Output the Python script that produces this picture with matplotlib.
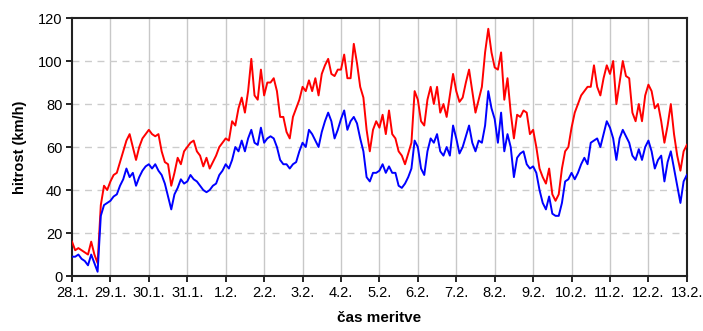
import numpy as np
import matplotlib.pyplot as plt

plt.rcParams['font.family'] = ['Liberation Sans', 'DejaVu Sans']

# odčitki vsake 2 uri (12 na dan), od 28.1. 00h do 13.2. 00h
dnevi = ["28.1.", "29.1.", "30.1.", "31.1.", "1.2.", "2.2.", "3.2.", "4.2.",
         "5.2.", "6.2.", "7.2.", "8.2.", "9.2.", "10.2.", "11.2.", "12.2.", "13.2."]

sunki = [
    16, 12, 13, 12, 11, 10, 16, 10, 6, 33, 42, 40,
    44, 47, 48, 53, 58, 63, 66, 60, 54, 60, 64, 66,
    68, 66, 65, 66, 58, 53, 52, 42, 48, 55, 52, 58,
    60, 62, 63, 58, 56, 51, 55, 50, 53, 56, 60, 62,
    64, 63, 72, 70, 78, 83, 76, 86, 101, 84, 82, 96,
    84, 90, 90, 92, 86, 74, 74, 67, 64, 74, 78, 82,
    88, 86, 91, 86, 92, 84, 94, 98, 101, 94, 93, 96,
    96, 103, 92, 92, 108, 99, 88, 83, 68, 58, 68, 72,
    69, 75, 66, 77, 66, 64, 58, 56, 52, 57, 62, 86,
    82, 72, 70, 82, 88, 80, 88, 76, 80, 74, 84, 94,
    86, 81, 83, 90, 96, 86, 76, 82, 88, 104, 115, 104,
    97, 96, 104, 82, 92, 76, 64, 75, 74, 77, 76, 66,
    68, 60, 50, 46, 43, 50, 38, 35, 38, 50, 58, 60,
    69, 76, 80, 84, 86, 88, 88, 98, 88, 84, 92, 98,
    94, 100, 80, 90, 100, 93, 92, 76, 72, 80, 72, 84,
    89, 86, 78, 80, 72, 62, 70, 80, 66, 56, 49, 58,
    61,
]

povprecje = [
    9, 9, 10, 8, 7, 5, 10, 6, 2, 28, 33, 34,
    35, 37, 38, 42, 45, 50, 46, 48, 42, 46, 49, 51,
    52, 50, 52, 49, 47, 43, 37, 31, 38, 41, 45, 43,
    44, 47, 45, 44, 42, 40, 39, 40, 42, 43, 47, 49,
    52, 50, 54, 60, 58, 63, 58, 64, 68, 62, 61, 69,
    62, 64, 65, 64, 60, 54, 52, 52, 50, 52, 53, 58,
    62, 60, 68, 66, 63, 60, 67, 72, 76, 72, 64, 68,
    73, 77, 68, 72, 74, 71, 64, 58, 46, 44, 48, 48,
    49, 52, 48, 51, 48, 48, 42, 41, 43, 46, 50, 63,
    60, 50, 47, 58, 64, 62, 66, 58, 56, 60, 56, 70,
    64, 57, 60, 65, 70, 62, 58, 63, 62, 70, 86, 78,
    73, 62, 76, 58, 66, 60, 46, 55, 57, 58, 52, 50,
    51, 48, 40, 34, 31, 37, 29, 28, 28, 34, 44, 45,
    48, 45, 48, 52, 55, 52, 62, 63, 64, 60, 66, 72,
    69, 64, 54, 64, 68, 65, 62, 56, 54, 59, 54, 60,
    63, 58, 50, 54, 56, 44, 53, 58, 50, 42, 34, 44,
    47,
]

t = np.arange(len(sunki)) / 12.0

fig = plt.figure(figsize=(7.03, 3.31), dpi=100)
ax = fig.add_axes([0.1024, 0.166, 0.8746, 0.7796])

ax.plot(t, sunki, color="#ff0000", lw=1.4, zorder=3)
ax.plot(t, povprecje, color="#0000ff", lw=1.4, zorder=3)

ax.set_xlim(0, 16)
ax.set_ylim(0, 120)
ax.set_xticks(np.arange(len(dnevi)))
ax.set_xticklabels(dnevi)
ax.set_yticks(np.arange(0, 121, 20))

for d in range(1, 16):
    ax.axvline(d, color="#c8c8c8", lw=1.0, zorder=1)
for v in range(20, 120, 20):
    ax.axhline(v, color="#cccccc", lw=1.0, ls=(0, (5, 4)), zorder=1)

for s in ax.spines.values():
    s.set_linewidth(1.5)
    s.set_color("#222222")
ax.tick_params(direction="out", length=4, width=1.2, labelsize=10.5, pad=3)

ax.set_ylabel("hitrost (km/h)", fontsize=10.5, fontweight="bold", labelpad=8)
ax.set_xlabel("čas meritve", fontsize=11, fontweight="bold", labelpad=8)

fig.savefig("out.png", dpi=100)
